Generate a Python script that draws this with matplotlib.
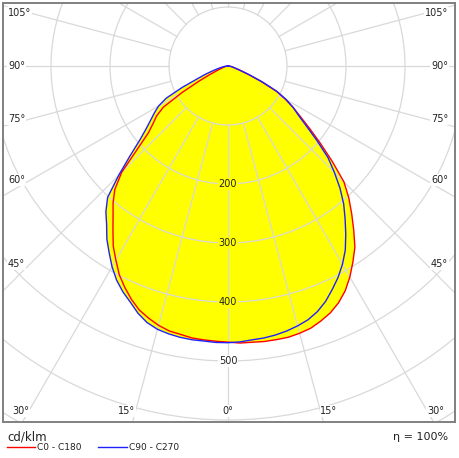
import matplotlib.pyplot as plt
import numpy as np
from matplotlib.lines import Line2D

# luminous intensity, cd/klm, for gamma 0..90 deg in 2.5 deg steps
GAMMA = np.arange(0, 90.1, 2.5)
C0 = [469, 470, 470, 471, 471, 471, 469, 466, 460, 453, 443, 430, 413, 394, 375, 350, 326, 303,
      278, 240, 205, 175, 150, 131, 112, 92, 62, 38, 22, 14, 10, 7, 5, 4, 3, 1, 0]
C180 = [468, 467, 466, 465, 462, 460, 455, 448, 440, 428, 414, 399, 380, 362, 340, 320, 303, 284,
        255, 208, 176, 160, 148, 130, 90, 55, 33, 20, 13, 9, 6, 5, 4, 3, 2, 1, 0]
C90 = [469, 468, 466, 465, 463, 460, 456, 451, 443, 432, 418, 404, 388, 370, 348, 326, 305, 281,
       255, 230, 197, 168, 146, 131, 114, 94, 65, 40, 24, 15, 11, 8, 6, 4, 3, 1, 0]
C270 = [469, 469, 468, 468, 467, 465, 462, 456, 446, 433, 422, 409, 393, 375, 358, 338, 322, 302,
        262, 225, 195, 175, 160, 148, 136, 118, 85, 55, 40, 27, 19, 13, 9, 6, 4, 2, 0]

RINGS = [100, 200, 300, 400, 500, 600, 700, 800]
RING_LABELS = [200, 300, 400, 500]
SIDE_ANGLES = [45, 60, 75, 90, 105]
BOTTOM_ANGLES = [30, 15, 0, 15, 30]

GRID = '#d9d9d9'
TEXT = '#222222'
FILL = '#ffff00'
SCALE = 0.59  # px per cd/klm


def half_curves(left, right):
    """Join the two half planes of one C plane into one closed outline"""
    g = np.radians(GAMMA)
    left, right = np.array(left, float), np.array(right, float)
    xl, yl = -left * np.sin(g), -left * np.cos(g)
    xr, yr = right * np.sin(g), -right * np.cos(g)
    return np.concatenate([xl[::-1], xr[1:]]), np.concatenate([yl[::-1], yr[1:]])


fig = plt.figure(figsize=(4.6, 4.58), dpi=100)
ax = fig.add_axes([3 / 460, 36 / 458, 452 / 460, 419 / 458])
ax.set_xlim(-(228 - 3) / SCALE, (455 - 228) / SCALE)
ax.set_ylim(-(422 - 66) / SCALE, (66 - 3) / SCALE)
ax.set_xticks([])
ax.set_yticks([])
for s in ax.spines.values():
    s.set_color('#808080')
    s.set_linewidth(1.4)

x_red, y_red = half_curves(C180, C0)
x_blue, y_blue = half_curves(C270, C90)
ax.fill(x_red, y_red, color=FILL, lw=0, zorder=1)
ax.fill(x_blue, y_blue, color=FILL, lw=0, zorder=1)

# polar grid
for r in RINGS:
    ax.add_patch(plt.Circle((0, 0), r, fill=False, ec=GRID, lw=0.9, zorder=2))
for a in range(0, 360, 15):
    t = np.radians(a)
    ax.plot([100 * np.sin(t), 1000 * np.sin(t)], [-100 * np.cos(t), -1000 * np.cos(t)],
            color=GRID, lw=0.9, zorder=2)

ax.plot(x_red, y_red, color='#ff0000', lw=1.0, zorder=3)
ax.plot(x_blue, y_blue, color='#2020ff', lw=1.0, zorder=3)

# value labels on the 0 deg axis
peak = min(C0[0], C180[0], C90[0], C270[0])
for r in RING_LABELS:
    ax.text(0, -r, str(r), ha='center', va='center', fontsize=7, color=TEXT, zorder=4,
            bbox=dict(fc=FILL if r < peak else 'white', ec='none', pad=0.6))

# angle labels
xl0, xl1 = ax.get_xlim()
x_ray = (228 - 30) / SCALE
for a in SIDE_ANGLES:
    yy = -x_ray / np.tan(np.radians(a))
    ax.text(xl0 + 5 / SCALE, yy, f'{a}°', ha='left', va='center', fontsize=7, color=TEXT,
            zorder=4, bbox=dict(fc='white', ec='none', pad=0.6))
    ax.text(xl1 - 7 / SCALE, yy, f'{a}°', ha='right', va='center', fontsize=7, color=TEXT,
            zorder=4, bbox=dict(fc='white', ec='none', pad=0.6))
y_bot = -(411 - 66) / SCALE
for i, a in enumerate(BOTTOM_ANGLES):
    side = -1 if i < 2 else (1 if i > 2 else 0)
    xx = side * abs(y_bot) * np.tan(np.radians(a))
    ha = {-1: 'right', 0: 'center', 1: 'left'}[side]
    ax.text(xx, y_bot, f'{a}°', ha=ha, va='center', fontsize=7, color=TEXT, zorder=4,
            bbox=dict(fc='white', ec='none', pad=0.6))

# footer
fig.text(7 / 460, 1 - 437 / 458, 'cd/klm', ha='left', va='center', fontsize=8.5, color=TEXT)
fig.text(448 / 460, 1 - 437 / 458, 'η = 100%', ha='right', va='center', fontsize=8, color=TEXT)
yl = 1 - 447 / 458
fig.add_artist(Line2D([7 / 460, 35 / 460], [yl, yl], color='#ff0000', lw=1.0))
fig.text(37 / 460, yl, 'C0 - C180', ha='left', va='center', fontsize=6.5, color=TEXT)
fig.add_artist(Line2D([98 / 460, 127 / 460], [yl, yl], color='#2020ff', lw=1.0))
fig.text(129 / 460, yl, 'C90 - C270', ha='left', va='center', fontsize=6.5, color=TEXT)

fig.savefig('out.png', dpi=100)
